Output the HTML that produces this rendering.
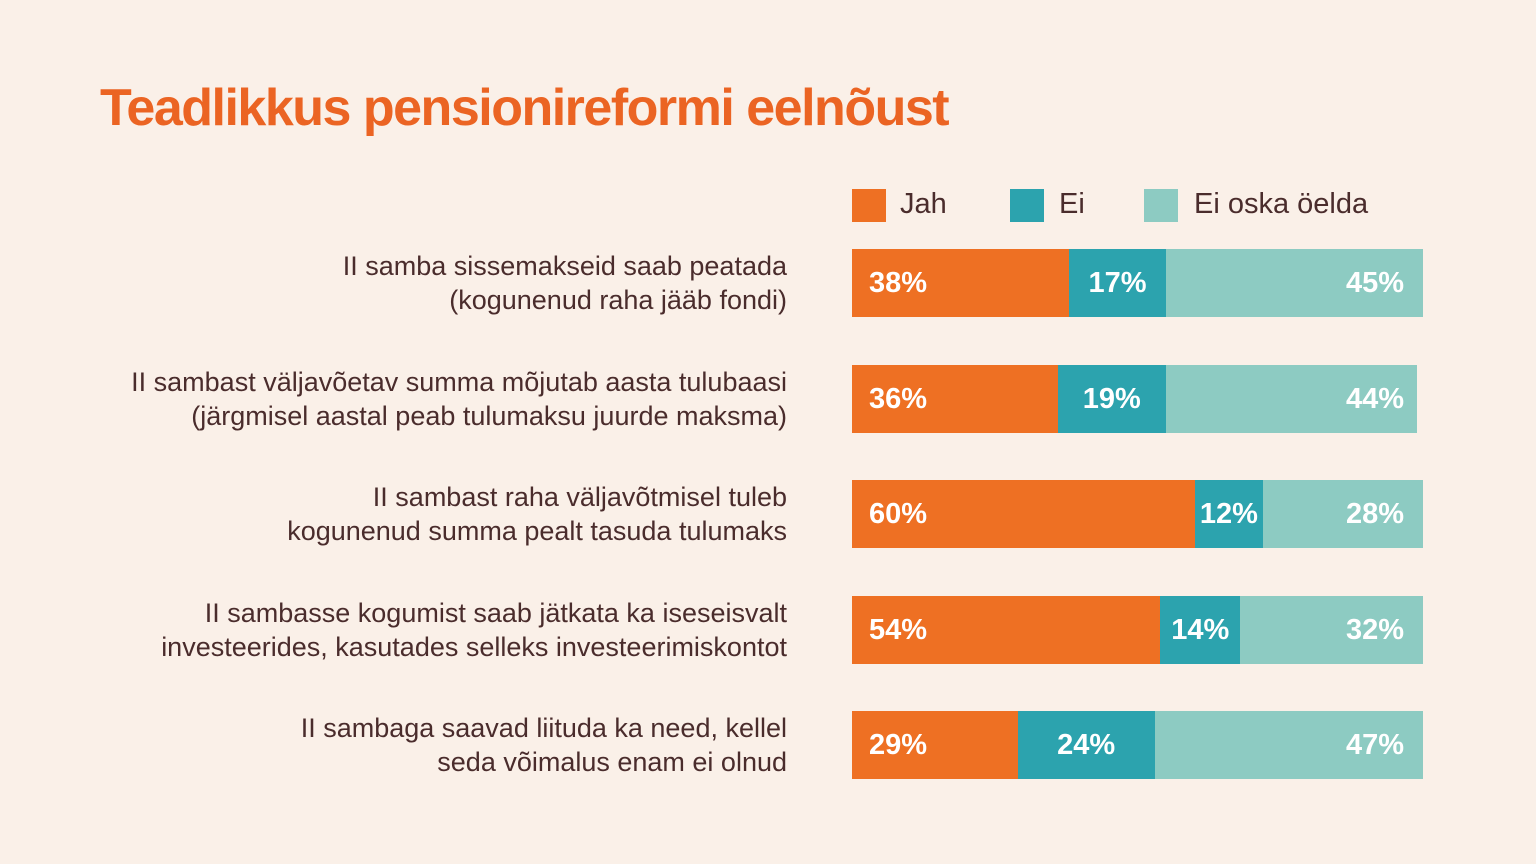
<!DOCTYPE html>
<html><head><meta charset="utf-8"><style>
body{margin:0;width:1536px;height:864px;background:#FAF0E8;font-family:"Liberation Sans",sans-serif;overflow:hidden;position:relative}
h1{position:absolute;left:100px;top:78px;margin:0;font-size:52px;font-weight:bold;color:#EB6423;letter-spacing:-1.5px}
.lg{position:absolute;top:189px;height:33px;width:34px}
.lt{position:absolute;top:186px;font-size:29px;color:#4a2c2c;line-height:36px}
.lab{position:absolute;right:749px;text-align:right;font-size:27px;line-height:34px;color:#4a2c2c}
.seg{position:absolute;height:68px}
.v{position:absolute;font-size:29px;font-weight:bold;color:#fff;line-height:68px}
</style></head><body>
<h1>Teadlikkus pensionireformi eelnõust</h1>
<div class="lg" style="left:852px;background:#EE7023"></div>
<div class="lt" style="left:900px">Jah</div>
<div class="lg" style="left:1010px;background:#2CA3AE"></div>
<div class="lt" style="left:1059px">Ei</div>
<div class="lg" style="left:1144px;background:#8DCBC2"></div>
<div class="lt" style="left:1194px">Ei oska öelda</div>
<div id="chart"></div>
<script>
const categories=[["II samba sissemakseid saab peatada","(kogunenud raha jääb fondi)"],["II sambast väljavõetav summa mõjutab aasta tulubaasi","(järgmisel aastal peab tulumaksu juurde maksma)"],["II sambast raha väljavõtmisel tuleb","kogunenud summa pealt tasuda tulumaks"],["II sambasse kogumist saab jätkata ka iseseisvalt","investeerides, kasutades selleks investeerimiskontot"],["II sambaga saavad liituda ka need, kellel","seda võimalus enam ei olnud"]];
const jah=[38,36,60,54,29];
const ei=[17,19,12,14,24];
const eiOska=[45,44,28,32,47];
const x0=852,scale=5.71,rowTop=249,rowStep=115.5;
const xs=v=>v*scale;
const root=document.getElementById('chart');
const colors=['#EE7023','#2CA3AE','#8DCBC2'];
const names=['jah','ei','ei-oska'];
categories.forEach((c,i)=>{
  const y=rowTop+i*rowStep;
  const lab=document.createElement('div');lab.className='lab';
  
  
  lab.style.top=(y+0)+'px';lab.innerHTML=c[0]+'<br>'+c[1];root.appendChild(lab);
  const vals=[jah[i],ei[i],eiOska[i]];let x=x0;
  vals.forEach((v,k)=>{
    const s=document.createElement('div');s.className='seg';
    
    
    s.style.left=x+'px';s.style.top=y+'px';s.style.width=xs(v)+'px';s.style.background=colors[k];root.appendChild(s);
    const t=document.createElement('div');t.className='v';
    
    
    t.textContent=v+'%';t.style.top=y+'px';
    if(k==0){t.style.left=(x+17)+'px';}
    else if(k==1){t.style.left=x+'px';t.style.width=xs(v)+'px';t.style.textAlign='center';}
    else{t.style.right=(1536-1404)+'px';}
    root.appendChild(t);
    x+=xs(v);
  });
});
</script>
</body></html>
